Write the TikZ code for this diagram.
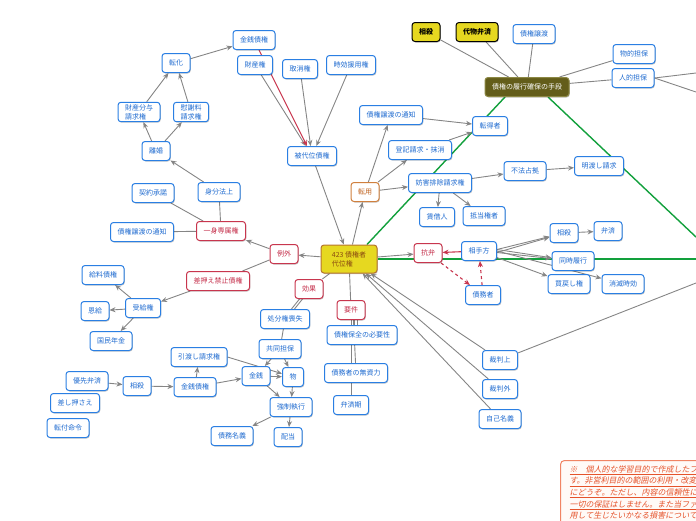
\documentclass[tikz,border=0pt]{standalone}
\usepackage{fontspec}
\newfontfamily\jp{Noto Sans CJK JP}
\newfontfamily\jpnote[FakeSlant=0.2]{Noto Sans CJK JP}
\usetikzlibrary{arrows.meta,shadows}
\pgfdeclarelayer{bg}
\pgfsetlayers{bg,main}
\definecolor{bluebd}{HTML}{2A7FE3}
\definecolor{bluetx}{HTML}{1F6BD0}
\definecolor{redbd}{HTML}{C8364E}
\definecolor{redtx}{HTML}{C42C48}
\definecolor{orbd}{HTML}{D0803E}
\definecolor{ortx}{HTML}{C0621E}
\definecolor{yel}{HTML}{E6D820}
\definecolor{olivec}{HTML}{635D1A}
\definecolor{olivebd}{HTML}{8C8844}
\definecolor{brn}{HTML}{8A4A10}
\definecolor{brnbd}{HTML}{B5752F}
\definecolor{cgray}{HTML}{858585}
\definecolor{cgreen}{HTML}{12A03C}
\definecolor{notec}{HTML}{E5532B}
\definecolor{notebd}{HTML}{F08464}
\definecolor{notefill}{HTML}{FFFAF7}
\tikzset{
  basebox/.style={rounded corners=3pt, line width=1pt, minimum height=19pt,
    inner xsep=7pt, inner ysep=2pt, font=\jp\fontsize{7}{9}\selectfont, fill=white,
    drop shadow={shadow xshift=0.8pt, shadow yshift=-1pt, opacity=0.22, fill=black}},
  bn/.style={basebox, draw=bluebd, text=bluetx},
  rn/.style={basebox, draw=redbd, text=redtx},
  on/.style={basebox, draw=orbd, text=ortx},
  yn/.style={basebox, draw=black, fill=yel, text=black, font=\jp\bfseries\fontsize{7}{9}\selectfont},
  olv/.style={basebox, draw=olivebd, fill=olivec, text=white},
  mainbox/.style={basebox, draw=brnbd, fill=yel, text=brn, align=left, minimum width=56pt, minimum height=28pt},
  ln/.style={draw=cgray, line width=0.9pt},
  ar/.style={ln, -{Stealth[length=6pt,width=5pt]}},
  gl/.style={draw=cgreen, line width=1.4pt},
  rar/.style={draw=redbd, line width=1.1pt, -{Stealth[length=6pt,width=5pt]}},
  rda/.style={rar, dashed},
  notebox/.style={draw=notebd, line width=1pt, fill=notefill, rounded corners=4pt,
    anchor=north west, inner xsep=9pt, inner ysep=5pt, text width=200pt, align=left,
    text=notec, font=\jpnote\fontsize{8}{11.6}\selectfont}
}
\begin{document}
\begin{tikzpicture}[x=1pt,y=-1pt]
\useasboundingbox (0,0) rectangle (696,520);
\clip (0,0) rectangle (696,520);
% nodes
\node[yn] (tsos) at (426,32) {相殺};
\node[yn] (dai) at (477,32) {代物弁済};
\node[bn] (jouto) at (534,34) {債権譲渡};
\node[bn] (butsu) at (634,54) {物的担保};
\node[bn] (jin) at (633,78) {人的担保};
\node[olv] (rikou) at (527,87) {債権の履行確保の手段};
\node[bn] (kinT) at (254,40) {金銭債権};
\node[bn] (zaisan) at (255,65) {財産権};
\node[bn] (tori) at (300,69) {取消権};
\node[bn] (jikou) at (351,65) {時効援用権};
\node[bn] (tenka) at (176,63) {転化};
\node[bn, align=left] (bunyo) at (139,112) {財産分与\\請求権};
\node[bn, align=left] (isha) at (191,112) {慰謝料\\請求権};
\node[bn] (rikon) at (156,151) {離婚};
\node[bn] (tsuchiT) at (391,115) {債権譲渡の通知};
\node[bn] (tentoku) at (490,126) {転得者};
\node[bn] (touki) at (420,150) {登記請求・抹消};
\node[bn] (hidai) at (312,156) {被代位債権};
\node[bn] (keiyaku) at (153,193) {契約承諾};
\node[bn] (mibun) at (219,192) {身分法上};
\node[on] (tenyou) at (365,192) {転用};
\node[bn] (bougai) at (440,183) {妨害排除請求権};
\node[bn] (fuhou) at (525,171) {不法占拠};
\node[bn] (akewa) at (599,166) {明渡し請求};
\node[bn] (chinsha) at (437,217) {賃借人};
\node[bn] (teitou) at (484,216) {抵当権者};
\node[bn] (tsuchiL) at (142,232) {債権譲渡の通知};
\node[rn] (isshin) at (221,231) {一身専属権};
\node[bn] (sosR) at (564,233) {相殺};
\node[bn] (bensaiR) at (608,231) {弁済};
\node[rn] (reigai) at (284,254) {例外};
\node[mainbox] (n423) at (349,259) {423 債権者\\代位権};
\node[rn] (kouben) at (428,253) {抗弁};
\node[bn] (aite) at (479,251) {相手方};
\node[bn] (douji) at (573,261) {同時履行};
\node[rn] (sashi) at (218,281) {差押え禁止債権};
\node[bn] (kyuryo) at (103,275) {給料債権};
\node[rn] (kouka) at (309,289) {効果};
\node[bn] (jukyu) at (143,308) {受給権};
\node[bn] (kaimodo) at (569,284) {買戻し権};
\node[bn] (shoumetsu) at (623,284) {消滅時効};
\node[bn] (saimu) at (483,295) {債務者};
\node[rn] (youken) at (351,310) {要件};
\node[bn] (onkyu) at (95,311) {恩給};
\node[bn] (shobun) at (285,319) {処分権喪失};
\node[bn] (kokumin) at (111,341) {国民年金};
\node[bn] (hozen) at (362,335) {債権保全の必要性};
\node[bn] (kyoudou) at (280,349) {共同担保};
\node[bn] (hikiwa) at (199,357) {引渡し請求権};
\node[bn] (saibanjo) at (500,360) {裁判上};
\node[bn] (kinsen) at (256,376) {金銭};
\node[bn] (mono) at (293,377) {物};
\node[bn] (mushi) at (356,373) {債務者の無資力};
\node[bn] (yusen) at (87,381) {優先弁済};
\node[bn] (sosB) at (137,386) {相殺};
\node[bn] (kinB) at (195,387) {金銭債権};
\node[bn] (saibangai) at (500,389) {裁判外};
\node[bn] (sashiosa) at (75,403) {差し押さえ};
\node[bn] (bensaiki) at (351,405) {弁済期};
\node[bn] (kyousei) at (291,407) {強制執行};
\node[bn] (tenpu) at (68,428) {転付命令};
\node[bn] (jiko) at (500,419) {自己名義};
\node[bn] (saimumei) at (232,436) {債務名義};
\node[bn] (haitou) at (288,437) {配当};
\node[notebox] (note) at (560,460) {\underline{※　個人的な学習目的で作成したファイルで}\\
\underline{す。非営利目的の範囲の利用・改変は自由}\\
\underline{にどうぞ。ただし、内容の信頼性について}\\
\underline{一切の保証はしません。また当ファイルを利}\\
\underline{用して生じたいかなる損害についても作成者}\\
\underline{は責任を負いません。}};
\coordinate (e1) at (696,73);
\coordinate (e2) at (696,92);
\coordinate (e3) at (696,237);
\coordinate (e4) at (696,259);
\coordinate (e5) at (696,283);
% connectors
\begin{pgfonlayer}{bg}
\draw[gl] ([xshift=18pt]n423.north) -- ([xshift=-22pt]rikou.south);
\draw[gl] ([xshift=21pt]rikou.south) -- (e3);
\draw[gl] (n423.east) -- (e4);
\draw[ln] (tsos) -- (rikou);
\draw[ln] (dai) -- (rikou);
\draw[ln] (jouto) -- (rikou);
\draw[ln] (rikou) -- (butsu);
\draw[ln] (rikou) -- (jin);
\draw[ln] (jin.east) -- (e1);
\draw[ln] (jin.east) -- (e2);
\draw[ar] (zaisan) -- (hidai);
\draw[rar] (kinT) -- (hidai);
\draw[ar] (tori) -- (hidai);
\draw[ar] (jikou) -- (hidai);
\draw[ar] (hidai) -- (n423);
\draw[ar] (tenka) -- (kinT);
\draw[ar] (bunyo) -- (tenka);
\draw[ar] (isha) -- (tenka);
\draw[ar] (rikon) -- (bunyo);
\draw[ar] (rikon) -- (isha);
\draw[ar] (mibun) -- (rikon);
\draw[ln] (isshin) -- (mibun);
\draw[ln] (isshin) -- (keiyaku);
\draw[ln] (isshin) -- (tsuchiL);
\draw[ar] (reigai) -- (isshin);
\draw[ln] (reigai) -- (sashi);
\draw[ar] (n423) -- (reigai);
\draw[ar] (sashi) -- (jukyu);
\draw[ar] (jukyu) -- (kyuryo);
\draw[ar] (jukyu) -- (onkyu);
\draw[ar] (jukyu) -- (kokumin);
\draw[ln] (n423) -- (kouka);
\draw[ln] ([xshift=-1.5pt]kouka.center) -- ([xshift=-1.5pt]shobun.center);
\draw[ln] ([xshift=1.5pt]kouka.center) -- ([xshift=1.5pt]shobun.center);
\draw[ln] (shobun) -- (kyoudou);
\draw[ar] (kyoudou) -- (kinsen);
\draw[ar] (kyoudou) -- (mono);
\draw[ar] (kinsen) -- (mono);
\draw[ar] (kinsen) -- (kyousei);
\draw[ar] (mono) -- (kyousei);
\draw[ar] (kyousei) -- (saimumei);
\draw[ar] (kyousei) -- (haitou);
\draw[ar] (yusen) -- (sosB);
\draw[ar] (sosB) -- (kinB);
\draw[ar] (kinB) -- (hikiwa);
\draw[ar] (kinB) -- (kinsen);
\draw[ar] (hikiwa.east) -- (mono);
\draw[ln] (n423) -- (youken);
\draw[ln] ([xshift=3pt]youken.center) -- ([xshift=-8pt]hozen.center);
\draw[ln] ([xshift=6pt]youken.center) -- ([xshift=-5pt]hozen.center);
\draw[ln] ([xshift=2pt]youken.center) -- (mushi.center);
\draw[ln] (youken.center) -- (bensaiki.center);
\draw[ar] (n423) -- (tenyou);
\draw[ar] (tenyou) -- (tsuchiT);
\draw[ar] (tenyou) -- (touki);
\draw[ar] (tenyou) -- (bougai);
\draw[ar] (tsuchiT) -- (tentoku);
\draw[ar] (touki) -- (tentoku);
\draw[ar] (bougai) -- (fuhou);
\draw[ar] (fuhou) -- (akewa);
\draw[ar] (bougai) -- (chinsha);
\draw[ar] (bougai) -- (teitou);
\draw[ar] ([yshift=2pt]n423.east) -- (kouben);
\draw[rar] (aite) -- (kouben);
\draw[rda] (kouben) -- (saimu);
\draw[rda] (saimu) -- (aite);
\draw[ar] ([yshift=1.5pt]aite.east) -- (sosR);
\draw[ar] ([yshift=-1.5pt]aite.east) -- (sosR);
\draw[ar] ([yshift=1.5pt]aite.east) -- (douji);
\draw[ar] ([yshift=-1.5pt]aite.east) -- (douji);
\draw[ar] (aite) -- (kaimodo);
\draw[ar] (aite.east) -- (shoumetsu);
\draw[ar] (sosR) -- (bensaiR);
\draw[ar] (saibanjo) -- (n423);
\draw[ar] (saibangai) -- (n423);
\draw[ar] (jiko) -- (n423);
\draw[ln] (saibanjo) -- (e5);
\end{pgfonlayer}
\end{tikzpicture}
\end{document}
